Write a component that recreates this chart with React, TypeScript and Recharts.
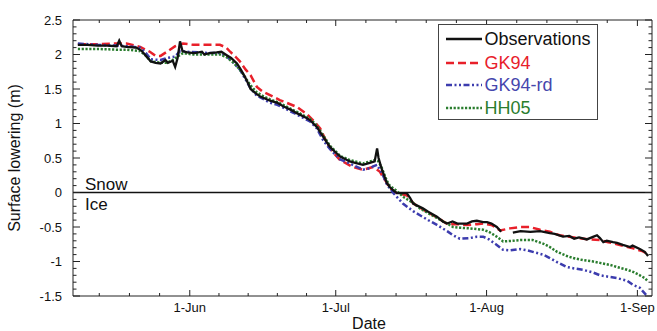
import React from 'react';
import { LineChart, Line, XAxis, YAxis, ReferenceLine, Label } from 'recharts';

const FONT = '"Liberation Sans", Arial, Helvetica, sans-serif';

// x = days counted from 1 May (1 May = 0)
const monthStarts = [0, 31, 61, 92, 123, 153];
const monthLabels = ['1-May', '1-Jun', '1-Jul', '1-Aug', '1-Sep', '1-Oct'];
const xDomain = [7, 126];
const yDomain = [-1.5, 2.5];
const yMajorTicks = [-1.5, -1, -0.5, 0, 0.5, 1, 1.5, 2, 2.5];

const seriesNames = ['Observations', 'GK94', 'GK94-rd', 'HH05'];

const obsDays = [8, 10, 12, 14, 16, 16.5, 17, 18, 20, 21, 22, 23, 24, 25, 26, 26.5, 27.5, 28, 28.5, 29, 29.5, 30.5, 32, 33.5, 34, 35, 36.5, 37.5, 38.6, 39.5, 40.7, 41.5, 42.3, 43, 43.5, 44.5, 45.5, 47.5, 49, 50.2, 52, 53, 55, 55.7, 57.1, 58.4, 59.8, 61, 61.9, 63.9, 65, 66.6, 68, 69, 69.5, 69.8, 70.5, 71.5, 72.1, 73, 73.6, 75.6, 76.3, 76.9, 78.9, 80, 81.8, 83, 83.9, 85, 86, 88, 89, 90, 91.3, 92.1, 93, 94.1, 95, 96, 97.4, 99, 101, 103, 105, 106, 107.7, 109, 110, 111, 112.6, 114, 114.7, 115.3, 116, 116.7, 118, 118.8, 120, 121.5, 122, 123.5, 124.5, 125.2];
const obsValues = [2.14, 2.14, 2.13, 2.13, 2.12, 2.20, 2.12, 2.11, 2.10, 2.06, 1.98, 1.90, 1.88, 1.87, 1.92, 1.88, 1.91, 1.82, 1.95, 2.19, 2.05, 2.03, 2.02, 2.04, 2.00, 2.02, 2.03, 2.04, 1.99, 1.95, 1.87, 1.78, 1.68, 1.58, 1.50, 1.44, 1.39, 1.33, 1.30, 1.25, 1.19, 1.15, 1.08, 1.05, 0.95, 0.81, 0.66, 0.58, 0.52, 0.45, 0.43, 0.40, 0.43, 0.45, 0.64, 0.50, 0.33, 0.14, 0.08, 0.02, -0.01, -0.01, -0.08, -0.16, -0.23, -0.28, -0.35, -0.42, -0.45, -0.42, -0.45, -0.45, -0.42, -0.41, -0.43, -0.43, -0.45, -0.50, -0.57, null, -0.58, -0.56, -0.57, -0.56, -0.59, -0.60, -0.64, -0.63, -0.67, -0.65, -0.68, -0.64, -0.62, -0.66, -0.72, -0.70, -0.72, -0.73, -0.76, -0.79, -0.77, -0.82, -0.86, -0.92];

const gk94Days = [8, 12, 16, 18, 20.8, 22.8, 24, 25, 26.3, 28, 29.6, 31.7, 34, 37.2, 38.5, 39.3, 40.5, 41.3, 42.5, 43.5, 44.8, 46, 47.5, 49.5, 50.2, 53, 55, 56.3, 57.8, 59.2, 60.5, 61.9, 64.5, 66.6, 68.7, 70.1, 70.5, 71.5, 72.1, 73.6, 75.6, 77, 79, 81.8, 84, 86, 88, 90, 91.3, 93, 94.8, 96.8, 99, 100.9, 103, 105, 107, 110.6, 113, 115.3, 117, 118.8, 121, 122.1, 124, 125.2];
const gk94Values = [2.15, 2.15, 2.16, 2.16, 2.11, 2.04, 1.98, 1.98, 2.04, 2.12, 2.16, 2.14, 2.14, 2.14, 2.10, 2.04, 1.96, 1.90, 1.78, 1.70, 1.53, 1.46, 1.41, 1.34, 1.32, 1.24, 1.14, 1.05, 0.93, 0.72, 0.58, 0.47, 0.37, 0.33, 0.37, 0.30, 0.25, 0.14, 0.06, -0.01, -0.04, -0.16, -0.25, -0.36, -0.46, -0.46, -0.47, -0.46, -0.45, -0.47, -0.55, -0.52, -0.50, -0.50, -0.54, -0.57, -0.62, -0.66, -0.68, -0.69, -0.72, -0.75, -0.79, -0.81, -0.85, -0.89];

const gk94rdDays = [8, 12, 16, 18, 20.8, 22, 23, 25, 26.3, 28, 29, 30.4, 33, 35.2, 37.2, 38.6, 40, 41.3, 42.3, 43.4, 44.8, 46, 47.5, 49, 50.2, 53, 55.7, 57.1, 58.4, 59.8, 61.9, 63.9, 66.6, 68, 68.7, 69.5, 70.5, 71.5, 72.1, 73, 74.8, 76.9, 78.3, 80, 81.8, 83.9, 85.1, 86.5, 88.6, 90, 91.3, 92.5, 94.1, 95.4, 96.8, 98.9, 100.5, 101.5, 103.6, 105, 106.5, 108.5, 110, 111.8, 113.9, 115.3, 117, 118.8, 120.9, 122.1, 123.5, 124.1, 125, 125.3];
const gk94rdValues = [2.16, 2.14, 2.13, 2.12, 2.10, 2.02, 1.93, 1.92, 1.95, 1.97, 2.05, 2.04, 2.03, 2.02, 2.02, 1.97, 1.88, 1.78, 1.66, 1.52, 1.40, 1.36, 1.30, 1.27, 1.23, 1.13, 1.03, 0.93, 0.76, 0.63, 0.48, 0.42, 0.33, 0.35, 0.38, 0.40, 0.28, 0.12, 0.06, -0.02, -0.16, -0.27, -0.33, -0.40, -0.47, -0.56, -0.62, -0.67, -0.66, -0.64, -0.64, -0.68, -0.76, -0.83, -0.84, -0.82, -0.84, -0.86, -0.90, -0.95, -1.01, -1.08, -1.10, -1.12, -1.16, -1.20, -1.22, -1.24, -1.28, -1.34, -1.38, -1.43, -1.50, -1.53];

const hh05Days = [8, 12, 16, 18, 20.8, 22, 23, 25, 26.3, 27.5, 28.5, 29.6, 31.7, 35.2, 37.2, 38.6, 40, 41.3, 42.3, 43.4, 44.8, 46, 47.5, 49, 50.2, 53, 55.7, 57.1, 58.4, 59.8, 61.9, 63.9, 66.6, 68, 69, 69.8, 70.5, 71.5, 72.1, 73.6, 74.8, 76.9, 78.3, 80, 81.8, 83.9, 85.1, 86.5, 88.6, 91.3, 92.5, 94.1, 95.4, 97.4, 98.9, 101.5, 103.6, 105, 106.5, 108.5, 109.8, 111.8, 113.9, 115.3, 117.4, 118.8, 120.9, 122.1, 123.5, 124.5, 125.2];
const hh05Values = [2.08, 2.08, 2.07, 2.07, 2.05, 1.98, 1.90, 1.88, 1.88, 1.92, 1.97, 2.02, 2.00, 2.00, 2.00, 1.96, 1.88, 1.78, 1.68, 1.56, 1.45, 1.40, 1.35, 1.31, 1.27, 1.17, 1.07, 0.97, 0.83, 0.68, 0.53, 0.47, 0.42, 0.45, 0.47, 0.45, 0.35, 0.17, 0.10, 0.02, -0.06, -0.15, -0.23, -0.30, -0.37, -0.45, -0.50, -0.51, -0.52, -0.54, -0.57, -0.64, -0.71, -0.70, -0.69, -0.69, -0.74, -0.79, -0.86, -0.92, -0.95, -0.98, -1.00, -1.02, -1.05, -1.08, -1.12, -1.15, -1.20, -1.24, -1.29];

const zip = (days: number[], vals: (number | null)[]) => days.map((d, i) => ({ d, v: vals[i] }));
const obsData = zip(obsDays, obsValues);
const gk94Data = zip(gk94Days, gk94Values);
const gk94rdData = zip(gk94rdDays, gk94rdValues);
const hh05Data = zip(hh05Days, hh05Values);

const COLORS = { obs: '#111111', gk94: '#e8202a', gk94rd: '#3c3cae', hh05: '#2a7d2e' };
const DASH = { obs: undefined, gk94: '8 4', gk94rd: '6 2.5 2 2.5 2 2.5', hh05: '2.2 1.6' };

// tick positions (majors on month starts, four minors per month)
const xTicks: number[] = [];
for (let i = 0; i < monthStarts.length - 1; i++) {
  const s = monthStarts[i];
  const len = monthStarts[i + 1] - s;
  for (let k = 0; k < 5; k++) {
    const t = s + (k * len) / 5;
    if (t >= xDomain[0] && t <= xDomain[1]) xTicks.push(t);
  }
}
const yTicks: number[] = [];
for (let k = Math.round(yDomain[0] * 10); k <= Math.round(yDomain[1] * 10); k++) yTicks.push(k / 10);
const isYMajor = (v: number) => yMajorTicks.some((m) => Math.abs(m - v) < 1e-6);

const TICK_COLOR = '#222';

const XTickBottom = (props: any) => {
  const { x, y, payload } = props;
  const idx = monthStarts.indexOf(payload.value);
  const major = idx >= 0;
  return (
    <g>
      <line x1={x} x2={x} y1={y} y2={y - (major ? 6 : 3)} stroke={TICK_COLOR} strokeWidth={1} />
      {major && (
        <text x={x} y={y + 15.5} textAnchor="middle" fontSize={13} fontFamily={FONT} fill="#111">
          {monthLabels[idx]}
        </text>
      )}
    </g>
  );
};
// top axis: tick y is the axis line (tickSize/margin 0), ticks point down into the plot
const XTickTop = (props: any) => {
  const { x, y, payload } = props;
  const major = monthStarts.indexOf(payload.value) >= 0;
  return <line x1={x} x2={x} y1={y} y2={y + (major ? 6 : 3)} stroke={TICK_COLOR} strokeWidth={1} />;
};
const YTickLeft = (props: any) => {
  const { x, y, payload } = props;
  const major = isYMajor(payload.value);
  return (
    <g>
      <line x1={x} x2={x + (major ? 7 : 3.5)} y1={y} y2={y} stroke={TICK_COLOR} strokeWidth={1} />
      {major && (
        <text x={x - 11} y={y + 4.5} textAnchor="end" fontSize={13} fontFamily={FONT} fill="#111">
          {String(payload.value)}
        </text>
      )}
    </g>
  );
};
const YTickRight = (props: any) => {
  const { x, y, payload } = props;
  const major = isYMajor(payload.value);
  return <line x1={x} x2={x - (major ? 7 : 3.5)} y1={y} y2={y} stroke={TICK_COLOR} strokeWidth={1} />;
};

const SnowIce = (props: any) => {
  const vb = props.viewBox || {};
  const x = (vb.x ?? 73) + 12;
  const y = vb.y ?? 192.5;
  return (
    <g fontFamily={FONT} fontSize={17} fill="#111">
      <text x={x} y={y - 2.5}>Snow</text>
      <text x={x} y={y + 17.5}>Ice</text>
    </g>
  );
};

const YTitle = (props: any) => {
  const vb = props.viewBox || { x: 0, y: 20, width: 73, height: 276 };
  const cx = vb.x + 20;
  const cy = vb.y + vb.height / 2;
  return (
    <text x={cx} y={cy} transform={`rotate(-90 ${cx} ${cy})`} textAnchor="middle" fontSize={16} fontFamily={FONT} fill="#111">
      Surface lowering (m)
    </text>
  );
};
const XTitle = (props: any) => {
  const vb = props.viewBox || { x: 73, y: 296, width: 579, height: 35 };
  return (
    <text x={vb.x + 296} y={vb.y + 33} textAnchor="middle" fontSize={16} fontFamily={FONT} fill="#111">
      Date
    </text>
  );
};

const legendRows = [
  { name: seriesNames[0], color: COLORS.obs, dash: DASH.obs, text: '#111', top: 14.3 },
  { name: seriesNames[1], color: COLORS.gk94, dash: DASH.gk94, text: COLORS.gk94, top: 37.5 },
  { name: seriesNames[2], color: COLORS.gk94rd, dash: DASH.gk94rd, text: '#4646ad', top: 59.5 },
  { name: seriesNames[3], color: COLORS.hh05, dash: DASH.hh05, text: COLORS.hh05, top: 82.7 },
];

export default function App() {
  return (
    <div style={{ position: 'absolute', left: 0, top: 0, width: 657, height: 331, background: '#fff' }}>
      <LineChart width={657} height={331} margin={{ top: 19, right: 4, bottom: 0, left: 0 }}>
        <XAxis
          xAxisId="bottom"
          orientation="bottom"
          dataKey="d"
          type="number"
          domain={xDomain}
          allowDataOverflow
          ticks={xTicks}
          interval={0}
          height={35}
          tickSize={0}
          tickMargin={0}
          tickLine={false}
          axisLine={{ stroke: TICK_COLOR, strokeWidth: 1 }}
          tick={<XTickBottom />}
        >
          <Label content={<XTitle />} />
        </XAxis>
        <XAxis
          xAxisId="top"
          orientation="top"
          dataKey="d"
          type="number"
          domain={xDomain}
          allowDataOverflow
          ticks={xTicks}
          interval={0}
          height={1}
          tickSize={0}
          tickMargin={0}
          tickLine={false}
          axisLine={{ stroke: TICK_COLOR, strokeWidth: 1 }}
          tick={<XTickTop />}
        />
        <YAxis
          yAxisId="left"
          orientation="left"
          type="number"
          domain={yDomain}
          allowDataOverflow
          ticks={yTicks}
          interval={0}
          width={73}
          tickSize={0}
          tickMargin={0}
          tickLine={false}
          axisLine={{ stroke: TICK_COLOR, strokeWidth: 1 }}
          tick={<YTickLeft />}
        >
          <Label content={<YTitle />} />
        </YAxis>
        <YAxis
          yAxisId="right"
          orientation="right"
          type="number"
          domain={yDomain}
          allowDataOverflow
          ticks={yTicks}
          interval={0}
          width={1}
          tickSize={0}
          tickMargin={0}
          tickLine={false}
          axisLine={{ stroke: TICK_COLOR, strokeWidth: 1 }}
          tick={<YTickRight />}
        />
        <ReferenceLine xAxisId="bottom" yAxisId="left" y={0} stroke="#111" strokeWidth={1.6} label={<SnowIce />} />
        {/* invisible series bound to the mirrored top/right axes */}
        <Line data={obsData} dataKey="v" xAxisId="top" yAxisId="right" stroke="transparent" strokeWidth={0} dot={false} activeDot={false} legendType="none" isAnimationActive={false} />
        <Line data={gk94Data} dataKey="v" xAxisId="bottom" yAxisId="left" name={seriesNames[1]} type="linear" stroke={COLORS.gk94} strokeWidth={2.5} strokeDasharray={DASH.gk94} dot={false} isAnimationActive={false} />
        <Line data={gk94rdData} dataKey="v" xAxisId="bottom" yAxisId="left" name={seriesNames[2]} type="linear" stroke={COLORS.gk94rd} strokeWidth={2.5} strokeDasharray={DASH.gk94rd} dot={false} isAnimationActive={false} />
        <Line data={hh05Data} dataKey="v" xAxisId="bottom" yAxisId="left" name={seriesNames[3]} type="linear" stroke={COLORS.hh05} strokeWidth={2.5} strokeDasharray={DASH.hh05} dot={false} isAnimationActive={false} />
        <Line data={obsData} dataKey="v" xAxisId="bottom" yAxisId="left" name={seriesNames[0]} type="linear" stroke={COLORS.obs} strokeWidth={2.3} dot={false} isAnimationActive={false} />
      </LineChart>
      <div
        style={{
          position: 'absolute',
          left: 438,
          top: 24,
          width: 160,
          height: 96,
          boxSizing: 'border-box',
          border: '1.5px solid #444',
          background: '#fff',
          fontFamily: FONT,
        }}
      >
        {legendRows.map((r) => (
          <div key={r.name} style={{ position: 'absolute', left: 6.5, top: r.top - 11, height: 22, display: 'flex', alignItems: 'center' }}>
            <svg width={36} height={22} style={{ display: 'block' }}>
              <line x1={0} x2={36} y1={11} y2={11} stroke={r.color} strokeWidth={2.5} strokeDasharray={r.dash} />
            </svg>
            <span style={{ marginLeft: 3, fontSize: 18, color: r.text, lineHeight: '22px', whiteSpace: 'nowrap' }}>{r.name}</span>
          </div>
        ))}
      </div>
    </div>
  );
}
